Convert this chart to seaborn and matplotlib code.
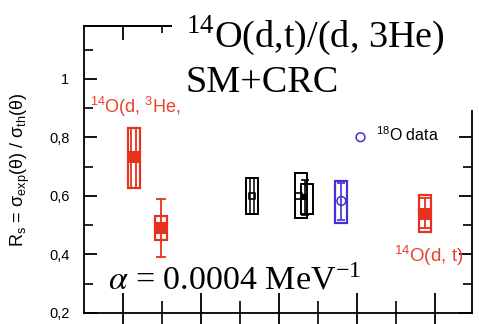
import numpy as np
import matplotlib
matplotlib.use("Agg")
import matplotlib.pyplot as plt
import seaborn as sns
from matplotlib.patches import Rectangle
from matplotlib.ticker import MultipleLocator, FixedLocator, NullFormatter

# ---------------- data ----------------
# red: 14O(d,3He) two points and 14O(d,t)
red_x = [1.28, 1.97, 8.74]
red_y = [0.733, 0.49, 0.54]
red_box_lo = [0.627, 0.450, 0.477]
red_box_hi = [0.832, 0.532, 0.603]
red_err_lo = [np.nan, 0.39, 0.49]
red_err_hi = [np.nan, 0.59, 0.592]

# black: other data
blk_x = [4.31, 5.56, 5.72]
blk_box_lo = [0.538, 0.525, 0.538]
blk_box_hi = [0.662, 0.680, 0.641]
blk_open_x = [4.31, 5.50]
blk_open_y = [0.600, 0.600]
blk_fill_x = [5.66]
blk_fill_y = [0.595]
blk_err_lo = [0.535]
blk_err_hi = [0.655]

# blue: 18O data
blu_x = [6.60]
blu_y = [0.583]
blu_box_lo = [0.508]
blu_box_hi = [0.651]
blu_err_lo = [0.518]
blu_err_hi = [0.644]

yticks = [0.2, 0.4, 0.6, 0.8, 1.0]
ytick_labels = ["0,2", "0,4", "0,6", "0,8", "1"]

RED = "#e8321e"
RED_TXT = "#e8412f"
BLUE = "#4430d8"
BLK = "#000000"

sns.set_style("ticks")
plt.rcParams.update({"text.color": "black", "axes.labelcolor": "black",
                     "xtick.color": "black", "ytick.color": "black", "axes.edgecolor": "black"})
SANS = ["Liberation Sans", "DejaVu Sans"]
SERIF = ["Liberation Serif", "DejaVu Serif"]
plt.rcParams["font.family"] = SANS

fig = plt.figure(figsize=(4.79, 3.24), dpi=100)
ax = fig.add_axes([84/479, 1-313/324, (472-84)/479, (313-26)/324])

W = 0.31
# boxes
ax.bar(red_x, np.array(red_box_hi)-np.array(red_box_lo), bottom=red_box_lo, width=W,
       fill=False, edgecolor=RED, linewidth=1.6, zorder=3)
ax.bar(blk_x[:2], np.array(blk_box_hi[:2])-np.array(blk_box_lo[:2]), bottom=blk_box_lo[:2], width=W,
       fill=False, edgecolor=BLK, linewidth=1.4, zorder=3)
ax.bar(blk_x[2:], np.array(blk_box_hi[2:])-np.array(blk_box_lo[2:]), bottom=blk_box_lo[2:], width=0.33,
       fill=False, edgecolor=BLK, linewidth=1.4, zorder=3)
ax.bar(blu_x, np.array(blu_box_hi)-np.array(blu_box_lo), bottom=blu_box_lo, width=W,
       fill=False, edgecolor=BLUE, linewidth=1.6, zorder=3)
# inner narrow boxes (point 1 red, first black)
ax.bar([red_x[0]], [red_box_hi[0]-red_box_lo[0]], bottom=[red_box_lo[0]], width=0.13,
       fill=False, edgecolor=RED, linewidth=1.3, zorder=3)
ax.bar([blk_x[0]], [blk_box_hi[0]-blk_box_lo[0]], bottom=[blk_box_lo[0]], width=0.12,
       fill=False, edgecolor=BLK, linewidth=1.1, zorder=3)

# error bars
ry = np.array(red_y[1:])
ax.errorbar(red_x[1:], ry, yerr=[ry-np.array(red_err_lo[1:]), np.array(red_err_hi[1:])-ry],
            fmt="none", ecolor=RED, elinewidth=1.3, capsize=3.5, capthick=1.3, zorder=4)
by = np.array(blk_fill_y)
ax.errorbar(blk_fill_x, by, yerr=[by-np.array(blk_err_lo), np.array(blk_err_hi)-by],
            fmt="none", ecolor=BLK, elinewidth=1.2, capsize=3, capthick=1.2, zorder=4)
uy = np.array(blu_y)
ax.errorbar(blu_x, uy, yerr=[uy-np.array(blu_err_lo), np.array(blu_err_hi)-uy],
            fmt="none", ecolor=BLUE, elinewidth=1.2, capsize=3, capthick=1.2, zorder=4)

# markers via seaborn
sns.scatterplot(x=red_x, y=red_y, marker="s", s=70, color=RED, edgecolor=RED, linewidth=0, ax=ax, zorder=5)
sns.scatterplot(x=blk_open_x, y=blk_open_y, marker="s", s=22, facecolor="none", edgecolor=BLK, linewidth=1.2, ax=ax, zorder=5)
sns.scatterplot(x=blk_fill_x, y=blk_fill_y, marker="s", s=22, color=BLK, edgecolor=BLK, linewidth=0, ax=ax, zorder=5)
sns.scatterplot(x=blu_x, y=blu_y, marker="o", s=40, facecolor="none", edgecolor=BLUE, linewidth=1.1, ax=ax, zorder=5,
                label="$^\\mathregular{18}$O data")

# axes
ax.set_xlim(0, 9.95)
ax.set_ylim(0.2, 1.181)
ax.xaxis.set_major_locator(FixedLocator([1, 3, 5, 7, 9]))
ax.xaxis.set_minor_locator(FixedLocator([2, 4, 6, 8]))
ax.xaxis.set_major_formatter(NullFormatter())
ax.yaxis.set_major_locator(FixedLocator(yticks))
ax.yaxis.set_minor_locator(MultipleLocator(0.1))
ax.set_yticklabels(ytick_labels)
for sp in ax.spines.values():
    sp.set_linewidth(1.3)
    sp.set_color(BLK)
ax.tick_params(axis="x", which="major", direction="inout", length=29, width=1.3, bottom=True, top=False)
ax.tick_params(axis="x", which="minor", direction="inout", length=17, width=1.2, bottom=True, top=False)
ax.tick_params(axis="y", which="major", direction="in", length=9.5, width=1.3, left=True, right=True,
               labelsize=10.5, pad=10.5)
ax.tick_params(axis="y", which="minor", direction="in", length=6.5, width=1.2, left=True, right=True)

top = ax.secondary_xaxis("top")
top.xaxis.set_major_locator(FixedLocator([1, 3, 5, 7, 9]))
top.xaxis.set_minor_locator(FixedLocator([2, 4, 6, 8]))
top.xaxis.set_major_formatter(NullFormatter())
top.tick_params(which="major", direction="in", length=10, width=1.3, colors="black")
top.tick_params(which="minor", direction="in", length=5, width=1.2, colors="black")
top.spines["top"].set_linewidth(1.3)
top.spines["top"].set_color("black")

ax.set_ylabel("R$_\\mathregular{s}$ = σ$_\\mathregular{exp}$(θ) / σ$_\\mathregular{th}$(θ)",
              fontsize=13, family=SANS, labelpad=12)

leg = ax.legend(loc="center left", bbox_to_anchor=(0.655, 0.62), frameon=False,
                handlelength=1.0, handletextpad=0.5, prop={"family": SANS, "size": 11.5})

# white cover behind title
fig.patches.append(Rectangle((172/479, 1-110/324), 1, 1, transform=fig.transFigure,
                             facecolor="white", edgecolor="none", zorder=1))

fig.text(90/479, 1-113/324, "$^\\mathregular{14}$O(d, $^\\mathregular{3}$He,",
         color=RED_TXT, fontsize=13, family=SANS, va="baseline", ha="left", zorder=4)
fig.text(394/479, 1-262/324, "$^\\mathregular{14}$O(d, t)",
         color=RED_TXT, fontsize=13.5, family=SANS, va="baseline", ha="left", zorder=4)

fig.text(186/479, 1-47/324, "$^\\mathregular{14}$O(d,t)/(d, 3He)", fontsize=27.5, family=SERIF,
         color="black", va="baseline", ha="left", zorder=3)
fig.text(186/479, 1-92/324, "SM+CRC", fontsize=27.5, family=SERIF, color="black",
         va="baseline", ha="left", zorder=3)
fig.text(108/479, 1-290/324, "$\\alpha$ = 0.0004 MeV$^\\mathregular{-1}$", fontsize=24.5, family=SERIF,
         math_fontfamily="stix", color="black", va="baseline", ha="left", zorder=3)

fig.savefig("out.png", dpi=100)
